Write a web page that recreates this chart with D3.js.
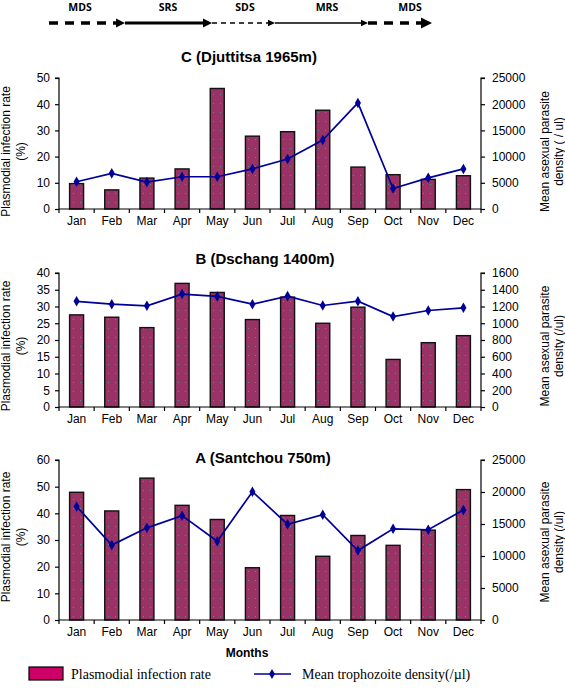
<!DOCTYPE html>
<html><head><meta charset="utf-8">
<script src="https://cdn.jsdelivr.net/npm/d3@7"></script>
<style>body{margin:0;background:#fff}svg{display:block}</style>
</head><body>
<svg id="chart" width="565" height="690"></svg>
<script>
const months = ["Jan","Feb","Mar","Apr","May","Jun","Jul","Aug","Sep","Oct","Nov","Dec"];
// Panel C (Djuttitsa 1965m)
const rateC = [9.7, 7.3, 11.8, 15.3, 46.0, 27.8, 29.5, 37.7, 16.0, 13.1, 11.3, 12.7];
const densC = [5200, 6800, 5150, 6150, 6150, 7650, 9550, 13150, 20250, 3900, 5950, 7650];
// Panel B (Dschang 1400m)
const rateB = [27.5, 26.8, 23.7, 36.9, 34.2, 26.1, 32.8, 25.0, 29.8, 14.2, 19.2, 21.3];
const densB = [1262, 1228, 1208, 1348, 1320, 1228, 1324, 1212, 1264, 1080, 1152, 1184];
// Panel A (Santchou 750m)
const rateA = [47.9, 40.9, 53.2, 43.0, 37.7, 19.6, 39.2, 23.9, 31.7, 28.0, 33.7, 48.9];
const densA = [17750, 11700, 14400, 16300, 12300, 20050, 14950, 16450, 10850, 14250, 14100, 17200];
// Tick labels
const leftTicksC = [0,10,20,30,40,50];
const rightTicksC = [0,5000,10000,15000,20000,25000];
const leftTicksB = [0,5,10,15,20,25,30,35,40];
const rightTicksB = [0,200,400,600,800,1000,1200,1400,1600];
const leftTicksA = [0,10,20,30,40,50,60];
const rightTicksA = [0,5000,10000,15000,20000,25000];
const seasons = ["MDS","SRS","SDS","MRS","MDS"];

const svg = d3.select("#chart");
const FONT = "Liberation Sans, Arial, sans-serif";
const barColor = "#993366";
const lineColor = "#000099";

const defs = svg.append("defs");
const pat = defs.append("pattern").attr("id","dots").attr("patternUnits","userSpaceOnUse")
  .attr("width",7).attr("height",9);
pat.append("rect").attr("width",7).attr("height",9).attr("fill",barColor);
pat.append("rect").attr("x",3).attr("y",4).attr("width",1).attr("height",1).attr("fill","#5f8f8a");

// Season arrows at the top
const arrowDefs = [
  {x0:49,x1:125,w:3.5,dash:"9,7",head:8},
  {x0:125,x1:212,w:3,dash:null,head:8},
  {x0:212,x1:275,w:1.6,dash:"5,4",head:6},
  {x0:275,x1:368,w:1.4,dash:null,head:6},
  {x0:368,x1:432,w:3.5,dash:"9,7",head:10}
];
const ay = 23;
arrowDefs.forEach((a,i)=>{
  svg.append("line").attr("x1",a.x0).attr("x2",a.x1-a.head).attr("y1",ay).attr("y2",ay)
    .attr("stroke","#000").attr("stroke-width",a.w).attr("stroke-dasharray",a.dash);
  svg.append("path").attr("d",`M${a.x1-a.head-1},${ay-a.head*0.55}L${a.x1},${ay}L${a.x1-a.head-1},${ay+a.head*0.55}Z`)
    .attr("fill","#000");
});
const seasonX = [80,168,245,327,410];
seasons.forEach((s,i)=>{
  svg.append("text").attr("x",seasonX[i]).attr("y",11).attr("text-anchor","middle")
    .attr("font-family","Open Sans, Liberation Sans, sans-serif").attr("font-weight","bold")
    .attr("font-size",10.5).text(s);
});

function drawPanel(p){
  const x = d3.scaleBand().domain(months).range([59,481]);
  const yL = d3.scaleLinear().domain([0,p.lmax]).range([p.bottom,p.top]);
  const yR = d3.scaleLinear().domain([0,p.rmax]).range([p.bottom,p.top]);
  const g = svg.append("g");
  // title
  g.append("text").attr("x",p.titleX).attr("y",p.titleY).attr("text-anchor","middle")
    .attr("font-family",FONT).attr("font-weight","bold").attr("font-size",15).text(p.title);
  // bars
  const bw = 14;
  g.selectAll("rect.bar").data(p.rate).join("rect").attr("class","bar")
    .attr("x",(d,i)=>x(months[i])+x.bandwidth()/2-bw/2)
    .attr("y",d=>yL(d)).attr("width",bw).attr("height",d=>p.bottom-yL(d))
    .attr("fill","url(#dots)").attr("stroke","#111").attr("stroke-width",1.4);
  // left axis
  const axL = g.append("g").attr("transform","translate(59,0)")
    .call(d3.axisLeft(yL).tickValues(p.lticks).tickSize(4).tickPadding(5).tickFormat(d3.format("d")));
  // right axis
  const axR = g.append("g").attr("transform","translate(481,0)")
    .call(d3.axisRight(yR).tickValues(p.rticks).tickSize(4).tickPadding(7).tickFormat(d3.format("d")));
  [axL,axR].forEach(a=>{
    a.select(".domain").attr("stroke","#000").attr("stroke-width",1.2);
    a.selectAll("line").attr("stroke","#000").attr("stroke-width",1.2);
    a.selectAll("text").attr("font-family",FONT).attr("font-size",12).attr("fill","#000");
  });
  axL.select(".domain").attr("d",`M-4,${p.top}H0V${p.bottom}`);
  axR.select(".domain").attr("d",`M4,${p.top}H0V${p.bottom}`);
  // x axis
  const axX = g.append("g").attr("transform",`translate(0,${p.bottom})`)
    .call(d3.axisBottom(x).tickSize(0).tickPadding(7));
  axX.select(".domain").attr("stroke","#000").attr("stroke-width",1.2).attr("d",`M59,0H481`);
  axX.selectAll("text").attr("font-family",FONT).attr("font-size",12).attr("fill","#000");
  months.forEach(m=>{
    axX.append("line").attr("x1",x(m)).attr("x2",x(m)).attr("y1",0).attr("y2",4)
      .attr("stroke","#000").attr("stroke-width",1.2);
  });
  axX.append("line").attr("x1",481).attr("x2",481).attr("y1",0).attr("y2",4).attr("stroke","#000").attr("stroke-width",1.2);
  // line
  const line = d3.line().x((d,i)=>x(months[i])+x.bandwidth()/2).y(d=>yR(d));
  g.append("path").datum(p.dens).attr("d",line).attr("fill","none")
    .attr("stroke",lineColor).attr("stroke-width",1.7);
  g.selectAll("path.mk").data(p.dens).join("path").attr("class","mk")
    .attr("d",d3.symbol().type(d3.symbolDiamond).size(32))
    .attr("transform",(d,i)=>`translate(${x(months[i])+x.bandwidth()/2},${yR(d)})`)
    .attr("fill",lineColor);
  // axis titles
  const mid = (p.top+p.bottom)/2 + p.labelShift;
  const lab = (tx,ty,txt)=>g.append("text").attr("transform",`translate(${tx},${ty}) rotate(-90)`)
    .attr("text-anchor","middle").attr("dy","0.35em").attr("font-family",FONT).attr("font-size",12).text(txt);
  lab(6,mid,"Plasmodial infection rate");
  lab(21,mid,"(%)");
  lab(545,mid+p.rShift,"Mean asexual parasite");
  lab(559,mid+p.rShift,p.rlabel2);
}

drawPanel({title:"C (Djuttitsa 1965m)",titleX:249,titleY:62,top:78,bottom:209,lmax:50,rmax:25000,
  lticks:leftTicksC,rticks:rightTicksC,rate:rateC,dens:densC,rlabel2:"density ( / ul)",labelShift:8,rShift:0});
drawPanel({title:"B (Dschang 1400m)",titleX:265,titleY:264,top:273,bottom:407,lmax:40,rmax:1600,
  lticks:leftTicksB,rticks:rightTicksB,rate:rateB,dens:densB,rlabel2:"density (/ul)",labelShift:6,rShift:0});
drawPanel({title:"A (Santchou 750m)",titleX:263,titleY:463,top:460,bottom:620,lmax:60,rmax:25000,
  lticks:leftTicksA,rticks:rightTicksA,rate:rateA,dens:densA,rlabel2:"density (/ul)",labelShift:-3,rShift:5});

svg.append("text").attr("x",247).attr("y",657).attr("text-anchor","middle")
  .attr("font-family",FONT).attr("font-weight","bold").attr("font-size",12).text("Months");

// legend
svg.append("rect").attr("x",29).attr("y",667).attr("width",34).attr("height",13)
  .attr("fill","#cc0066").attr("stroke","#000").attr("stroke-width",1.2);
svg.append("text").attr("x",71).attr("y",679).attr("font-family","Liberation Serif, Times New Roman, serif")
  .attr("font-size",14).text("Plasmodial infection rate");
svg.append("line").attr("x1",254).attr("x2",291).attr("y1",674).attr("y2",674)
  .attr("stroke",lineColor).attr("stroke-width",1.6);
svg.append("path").attr("d",d3.symbol().type(d3.symbolDiamond).size(30)).attr("transform","translate(272,674)").attr("fill",lineColor);
svg.append("text").attr("x",302).attr("y",679).attr("font-family","Liberation Serif, Times New Roman, serif")
  .attr("font-size",14).text("Mean trophozoite density(/µl)");
</script>
</body></html>
